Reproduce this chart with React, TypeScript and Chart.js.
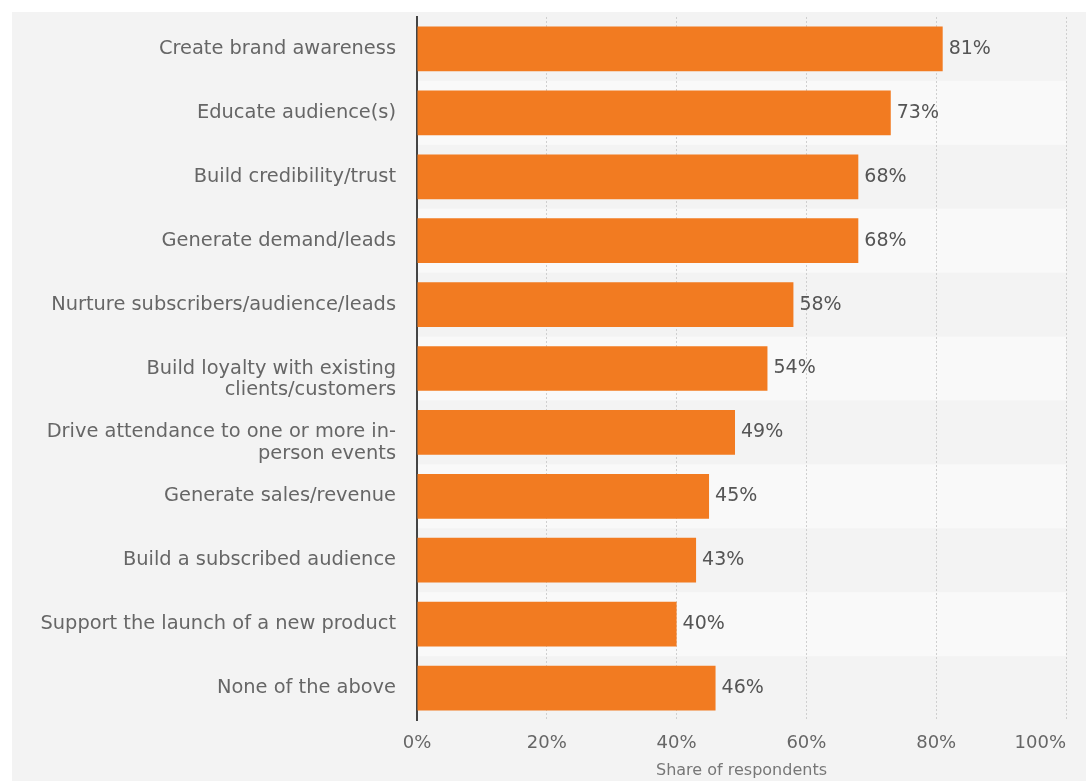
import { useEffect, useRef } from "react";
import { Chart, registerables } from "chart.js";

Chart.register(...registerables);

const categories: (string | string[])[] = [
  "Create brand awareness",
  "Educate audience(s)",
  "Build credibility/trust",
  "Generate demand/leads",
  "Nurture subscribers/audience/leads",
  ["Build loyalty with existing", "clients/customers"],
  ["Drive attendance to one or more in-", "person events"],
  "Generate sales/revenue",
  "Build a subscribed audience",
  "Support the launch of a new product",
  "None of the above",
];
const shares = [81, 73, 68, 68, 58, 54, 49, 45, 43, 40, 46];
const xTicks = [0, 20, 40, 60, 80, 100];
const xTitle = "Share of respondents";

const FONT = "'DejaVu Sans', sans-serif";

export default function App() {
  const ref = useRef<HTMLCanvasElement | null>(null);

  useEffect(() => {
    if (!ref.current) return;

    const bands = {
      id: "bands",
      beforeDraw(chart: any) {
        const { ctx, chartArea, scales } = chart;
        const y = scales.y;
        const n = chart.data.labels.length;
        const step = (y.bottom - y.top) / n;
        ctx.save();
        ctx.fillStyle = "#f9f9f9";
        for (let i = 1; i < n; i += 2) {
          const c = y.getPixelForValue(i);
          ctx.fillRect(chartArea.left, c - step / 2, chartArea.right - chartArea.left, step);
        }
        ctx.restore();
      },
    };

    const values = {
      id: "values",
      afterDatasetsDraw(chart: any) {
        const { ctx } = chart;
        const meta = chart.getDatasetMeta(0);
        ctx.save();
        ctx.font = `19px ${FONT}`;
        ctx.fillStyle = "#555555";
        ctx.textAlign = "left";
        ctx.textBaseline = "middle";
        meta.data.forEach((bar: any, i: number) => {
          ctx.fillText(`${shares[i]}%`, bar.x + 6, bar.y);
        });
        ctx.restore();
      },
    };

    const xLabels = {
      id: "xLabels",
      afterDraw(chart: any) {
        const { ctx, chartArea, scales } = chart;
        const x = scales.x;
        ctx.save();
        ctx.font = `18px ${FONT}`;
        ctx.fillStyle = "#666666";
        ctx.textBaseline = "middle";
        xTicks.forEach((v, i) => {
          const px = x.getPixelForValue(v);
          ctx.textAlign = i === xTicks.length - 1 ? "right" : "center";
          ctx.fillText(`${v}%`, px, chartArea.bottom + 23);
        });
        ctx.font = `16px ${FONT}`;
        ctx.fillStyle = "#777777";
        ctx.textAlign = "center";
        ctx.fillText(xTitle, (chartArea.left + chartArea.right) / 2, chartArea.bottom + 51);
        ctx.restore();
      },
    };

    const chart = new Chart(ref.current, {
      type: "bar",
      data: {
        labels: categories as any,
        datasets: [
          {
            data: shares,
            backgroundColor: "#f27b21",
            borderWidth: 0,
            barPercentage: 0.7,
            categoryPercentage: 1,
          },
        ],
      },
      options: {
        indexAxis: "y",
        animation: false,
        responsive: false,
        layout: { padding: { top: 5, right: 20, left: 0, bottom: 0 } },
        plugins: {
          legend: { display: false },
          tooltip: { enabled: false },
        },
        scales: {
          x: {
            min: 0,
            max: 100,
            ticks: { display: false, stepSize: 20 },
            grid: { color: "#cfcfcf", lineWidth: 1, drawTicks: false },
            border: { display: false, dash: [2, 2] },
            afterFit(scale: any) {
              scale.height = 61;
              scale.paddingLeft = 0;
              scale.paddingRight = 0;
            },
          },
          y: {
            grid: { display: false, drawTicks: false },
            border: { display: true, color: "#444444", width: 2 },
            ticks: {
              autoSkip: false,
              color: "#666666",
              padding: 21,
              font: { family: FONT, size: 19.4, lineHeight: 1.1 },
              callback(this: any, value: any) {
                const lbl = this.getLabelForValue(value);
                // first line of a wrapped label sits on the row centre
                return Array.isArray(lbl) ? ["", ...lbl] : lbl;
              },
            },
            afterFit(scale: any) {
              scale.width = 405;
              scale.paddingTop = 0;
              scale.paddingBottom = 0;
            },
          },
        },
      },
      plugins: [bands, values, xLabels],
    });

    return () => chart.destroy();
  }, []);

  return (
    <div
      style={{
        position: "fixed",
        left: 12,
        top: 12,
        width: 1074,
        height: 769,
        background: "#f3f3f3",
      }}
    >
      <canvas ref={ref} width={1074} height={769} style={{ display: "block" }} />
    </div>
  );
}
